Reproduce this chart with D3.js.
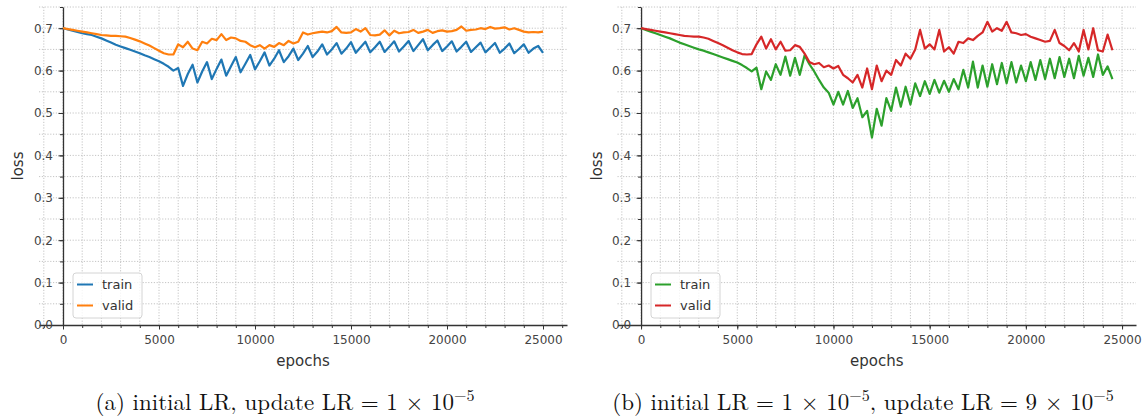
<!DOCTYPE html>
<html>
<head>
<meta charset="utf-8">
<script src="https://cdn.jsdelivr.net/npm/d3@7"></script>
<style>
    body { margin: 0; background: #fff; }
    svg { display: block; }
    .axis text { font-family: "DejaVu Sans", sans-serif; font-size: 12px; fill: #444; }
    .axis path, .axis line { stroke: #333; }
    .axis-label { font-family: "DejaVu Sans", sans-serif; font-size: 15px; fill: #333; }
    .legend text { font-family: "DejaVu Sans", sans-serif; font-size: 13px; fill: #333; }
    .caption { font-family: "Latin Modern Roman", "CMU Serif", "DejaVu Serif", serif; font-size: 23px; fill: #111; }
</style>
</head>
<body>
<svg id="chart" width="1143" height="417"></svg>
<script>
// sampled every 250 epochs
var epochsA = d3.range(0, 25001, 250);
var epochsB = d3.range(0, 24501, 250);

var trainA = [
    0.700, 0.697, 0.694, 0.691, 0.688, 0.686, 0.684, 0.680, 0.676, 0.671, 0.666, 0.661,
    0.657, 0.653, 0.649, 0.645, 0.641, 0.636, 0.632, 0.627, 0.622, 0.616, 0.609, 0.600,
    0.606, 0.564, 0.592, 0.614, 0.572, 0.598, 0.620, 0.580, 0.604, 0.626, 0.588, 0.610,
    0.632, 0.596, 0.616, 0.637, 0.603, 0.622, 0.643, 0.612, 0.628, 0.648, 0.620, 0.634,
    0.652, 0.625, 0.640, 0.658, 0.632, 0.645, 0.662, 0.638, 0.650, 0.665, 0.640, 0.652,
    0.667, 0.642, 0.655, 0.668, 0.643, 0.655, 0.668, 0.644, 0.656, 0.669, 0.645, 0.657,
    0.670, 0.646, 0.660, 0.674, 0.648, 0.660, 0.671, 0.646, 0.657, 0.669, 0.645, 0.656,
    0.668, 0.644, 0.655, 0.666, 0.643, 0.654, 0.665, 0.642, 0.652, 0.664, 0.641, 0.651,
    0.662, 0.642, 0.652, 0.658, 0.642
];
var validA = [
    0.700, 0.698, 0.696, 0.694, 0.692, 0.690, 0.688, 0.686, 0.684, 0.683, 0.682, 0.682,
    0.681, 0.680, 0.677, 0.673, 0.669, 0.664, 0.659, 0.653, 0.647, 0.641, 0.638, 0.638,
    0.662, 0.655, 0.668, 0.652, 0.648, 0.668, 0.664, 0.675, 0.672, 0.686, 0.672, 0.678,
    0.676, 0.670, 0.668, 0.660, 0.655, 0.660, 0.652, 0.660, 0.656, 0.665, 0.660, 0.670,
    0.664, 0.668, 0.690, 0.685, 0.688, 0.690, 0.692, 0.690, 0.693, 0.703, 0.690, 0.689,
    0.690, 0.698, 0.692, 0.700, 0.684, 0.683, 0.685, 0.695, 0.683, 0.694, 0.688, 0.690,
    0.691, 0.696, 0.689, 0.692, 0.696, 0.689, 0.693, 0.695, 0.692, 0.693, 0.696, 0.704,
    0.694, 0.696, 0.697, 0.700, 0.698, 0.703, 0.699, 0.700, 0.702, 0.697, 0.700, 0.696,
    0.692, 0.690, 0.691, 0.690, 0.692
];
var trainB = [
    0.700, 0.696, 0.692, 0.688, 0.684, 0.680, 0.676, 0.671, 0.666, 0.662, 0.658, 0.654,
    0.650, 0.647, 0.643, 0.639, 0.635, 0.631, 0.627, 0.623, 0.619, 0.613, 0.606, 0.598,
    0.607, 0.556, 0.598, 0.578, 0.615, 0.590, 0.633, 0.588, 0.630, 0.590, 0.636, 0.615,
    0.598, 0.578, 0.560, 0.548, 0.520, 0.550, 0.520, 0.552, 0.512, 0.535, 0.490, 0.505,
    0.442, 0.510, 0.470, 0.535, 0.505, 0.560, 0.515, 0.562, 0.520, 0.570, 0.540, 0.575,
    0.545, 0.578, 0.548, 0.576, 0.550, 0.580, 0.556, 0.602, 0.560, 0.621, 0.560, 0.612,
    0.562, 0.615, 0.568, 0.618, 0.570, 0.620, 0.572, 0.612, 0.575, 0.620, 0.578, 0.625,
    0.580, 0.628, 0.582, 0.632, 0.585, 0.628, 0.582, 0.635, 0.588, 0.630, 0.585, 0.638,
    0.590, 0.610, 0.580
];
var validB = [
    0.700, 0.698, 0.696, 0.694, 0.692, 0.690, 0.688, 0.686, 0.684, 0.682, 0.681, 0.680,
    0.680, 0.678, 0.675, 0.670, 0.665, 0.660, 0.654, 0.648, 0.643, 0.639, 0.638, 0.639,
    0.662, 0.680, 0.652, 0.674, 0.650, 0.668, 0.647, 0.648, 0.660, 0.656, 0.640, 0.620,
    0.615, 0.618, 0.608, 0.612, 0.605, 0.611, 0.590, 0.582, 0.572, 0.590, 0.560, 0.605,
    0.556, 0.612, 0.575, 0.600, 0.590, 0.625, 0.612, 0.640, 0.628, 0.650, 0.696, 0.652,
    0.662, 0.650, 0.696, 0.645, 0.655, 0.640, 0.668, 0.665, 0.676, 0.672, 0.682, 0.690,
    0.715, 0.692, 0.700, 0.694, 0.715, 0.690, 0.688, 0.684, 0.686, 0.680, 0.676, 0.672,
    0.668, 0.670, 0.696, 0.665, 0.658, 0.648, 0.665, 0.645, 0.696, 0.650, 0.700, 0.648,
    0.645, 0.685, 0.648
];

var xTicks = [0, 5000, 10000, 15000, 20000, 25000];
var yTicks = [0, 0.1, 0.2, 0.3, 0.4, 0.5, 0.6, 0.7];
var seriesNames = ["train", "valid"];
var captionA = ["(a) initial LR, update LR = 1 \u00d7 10", "\u22125", ""];
var captionB = ["(b) initial LR = 1 \u00d7 10", "\u22125", ", update LR = 9 \u00d7 10", "\u22125"];

var svg = d3.select("#chart");

var drawPanel = function (p) {
    var x = d3.scaleLinear().domain(p.xDomain).range([p.left, p.right]),
        y = d3.scaleLinear().domain([0, 0.75]).range([325, 7]),
        g = svg.append("g");

    var xMinor = d3.range(-1000, 26001, 1000).filter(function (d) {
        return d >= p.xDomain[0] && d <= p.xDomain[1];
    });
    var yMinor = d3.range(1, 16).map(function (k) { return k / 20; });

    // dotted grid
    g.append("g").selectAll("line")
        .data(xMinor)
        .enter()
        .append("line")
        .attr("x1", function (d) { return x(d); })
        .attr("x2", function (d) { return x(d); })
        .attr("y1", 7)
        .attr("y2", 325)
        .attr("stroke", "#c4c4c4")
        .attr("stroke-width", 1)
        .attr("stroke-dasharray", "1.2,1.6");

    g.append("g").selectAll("line")
        .data(yMinor)
        .enter()
        .append("line")
        .attr("x1", p.left)
        .attr("x2", p.right)
        .attr("y1", function (d) { return y(d); })
        .attr("y2", function (d) { return y(d); })
        .attr("stroke", "#c4c4c4")
        .attr("stroke-width", 1)
        .attr("stroke-dasharray", "1.2,1.6");

    // minor ticks
    g.append("g")
        .attr("class", "axis")
        .attr("transform", "translate(0," + y(0) + ")")
        .call(d3.axisBottom(x).tickValues(xMinor).tickSize(3).tickFormat(""))
        .call(function (s) { s.select(".domain").remove(); });

    g.append("g")
        .attr("class", "axis")
        .attr("transform", "translate(" + x(0) + ",0)")
        .call(d3.axisLeft(y).tickValues(yMinor).tickSize(3).tickFormat(""))
        .call(function (s) { s.select(".domain").remove(); });

    // major axes, spines through zero
    g.append("g")
        .attr("class", "axis")
        .attr("transform", "translate(0," + y(0) + ")")
        .call(d3.axisBottom(x).tickValues(xTicks).tickSize(4.5).tickSizeOuter(0).tickPadding(5.5).tickFormat(d3.format("d")))
        .call(function (s) { s.select(".domain").attr("stroke-width", 1.3).attr("stroke", "#444"); });

    g.append("g")
        .attr("class", "axis")
        .attr("transform", "translate(" + x(0) + ",0)")
        .call(d3.axisLeft(y).tickValues(yTicks).tickSize(4.5).tickSizeOuter(0).tickPadding(5.5).tickFormat(d3.format(".1f")))
        .call(function (s) { s.select(".domain").attr("stroke-width", 1.3).attr("stroke", "#222"); });

    // lines
    var line = d3.line()
        .x(function (d, i) { return x(p.epochs[i]); })
        .y(function (d) { return y(d); });

    [p.train, p.valid].forEach(function (vals, k) {
        g.append("path")
            .datum(vals)
            .attr("d", line)
            .attr("fill", "none")
            .attr("stroke", p.colors[k])
            .attr("stroke-width", 2.2)
            .attr("stroke-linejoin", "round");
    });

    // axis labels
    g.append("text")
        .attr("class", "axis-label")
        .attr("text-anchor", "middle")
        .attr("transform", "translate(" + (p.left - 16) + "," + 166 + ") rotate(-90)")
        .text("loss");

    g.append("text")
        .attr("class", "axis-label")
        .attr("text-anchor", "middle")
        .attr("x", (p.left + p.right) / 2)
        .attr("y", 366)
        .text("epochs");

    // legend
    var lg = g.append("g")
        .attr("class", "legend")
        .attr("transform", "translate(" + p.legendX + ",273)");

    lg.append("rect")
        .attr("width", 69)
        .attr("height", 45)
        .attr("rx", 3)
        .attr("fill", "#fff")
        .attr("fill-opacity", 0.8)
        .attr("stroke", "#d4d4d4");

    seriesNames.forEach(function (name, k) {
        lg.append("line")
            .attr("x1", 4)
            .attr("x2", 20)
            .attr("y1", 11.5 + k * 21)
            .attr("y2", 11.5 + k * 21)
            .attr("stroke", p.colors[k])
            .attr("stroke-width", 2);

        lg.append("text")
            .attr("x", 29)
            .attr("y", 16 + k * 21)
            .text(name);
    });

    // caption
    var cap = svg.append("text")
        .attr("class", "caption")
        .attr("text-anchor", "middle")
        .attr("x", p.captionX)
        .attr("y", 410);

    p.caption.forEach(function (part, i) {
        var sup = i % 2 === 1;
        cap.append("tspan")
            .attr("font-size", sup ? "16px" : null)
            .attr("dy", sup ? -9 : (i > 0 ? 9 : 0))
            .text(part);
    });
};

drawPanel({
    xDomain: [-1250, 26250], left: 39, right: 567,
    epochs: epochsA, train: trainA, valid: validA,
    colors: ["#1f77b4", "#ff7f0e"],
    legendX: 73, captionX: 285, caption: captionA
});

drawPanel({
    xDomain: [-1225, 25725], left: 617.5, right: 1136,
    epochs: epochsB, train: trainB, valid: validB,
    colors: ["#2ca02c", "#d62728"],
    legendX: 651, captionX: 863, caption: captionB
});
</script>
</body>
</html>
